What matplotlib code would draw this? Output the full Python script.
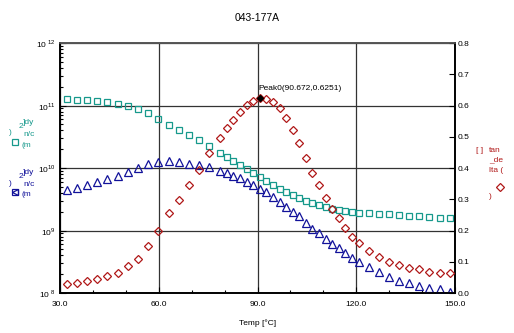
import matplotlib
matplotlib.use("Agg")
import matplotlib.pyplot as plt
import numpy as np
from matplotlib.ticker import FixedLocator, LogLocator, NullFormatter

plt.rcParams["font.family"] = ["Liberation Sans", "DejaVu Sans"]
plt.rcParams["mathtext.fontset"] = "custom"
plt.rcParams["mathtext.rm"] = "Liberation Sans"

# temperature of each measurement point [degC]
temp = [32.0, 35.1, 38.2, 41.3, 44.4, 47.5, 50.6, 53.7, 56.8, 59.9, 63.0, 66.0,
        69.1, 72.2, 75.3,
        78.7, 80.7, 82.7, 84.7, 86.7, 88.7, 90.7, 92.7, 94.7, 96.7, 98.7, 100.7,
        102.7, 104.7, 106.7, 108.7, 110.7, 112.7, 114.7, 116.7, 118.7, 120.7,
        123.8, 126.8, 129.9, 133.0, 136.0, 139.1, 142.2, 145.3, 148.4]

# log10 of storage modulus (squares)
log_g1 = [11.10, 11.09, 11.09, 11.07, 11.06, 11.02, 10.99, 10.94, 10.88, 10.79,
          10.69, 10.61, 10.53, 10.45, 10.35,
          10.245, 10.181, 10.117, 10.053, 9.989, 9.925, 9.861, 9.797, 9.733,
          9.669, 9.616, 9.573, 9.528, 9.47, 9.435, 9.408, 9.371, 9.339, 9.328,
          9.312, 9.296, 9.285,
          9.275, 9.264, 9.259, 9.248, 9.232, 9.227, 9.211, 9.205, 9.195]

# log10 of loss modulus (triangles)
log_g2 = [9.648, 9.685, 9.728, 9.771, 9.824, 9.877, 9.936, 10.0, 10.064, 10.096,
          10.107, 10.091, 10.07, 10.048, 10.011,
          9.957, 9.915, 9.877, 9.835, 9.781, 9.728, 9.664, 9.611, 9.531, 9.461,
          9.381, 9.301, 9.225, 9.12, 9.02, 8.958, 8.859, 8.784, 8.723, 8.645,
          8.555, 8.491,
          8.411, 8.331, 8.261, 8.197, 8.155, 8.112, 8.085, 8.059, 8.021]

# tan delta (diamonds)
tan_delta = [0.029, 0.033, 0.038, 0.045, 0.054, 0.065, 0.086, 0.110, 0.150, 0.200,
             0.256, 0.298, 0.346, 0.394, 0.447,
             0.497, 0.527, 0.554, 0.580, 0.602, 0.614, 0.6251, 0.621, 0.612,
             0.591, 0.561, 0.522, 0.479, 0.431, 0.385, 0.346, 0.303, 0.268,
             0.239, 0.207, 0.180, 0.160,
             0.136, 0.114, 0.098, 0.090, 0.079, 0.076, 0.068, 0.065, 0.063]

peak_t, peak_v = 90.672, 0.6251

teal = "#17998c"
navy = "#12129a"
red = "#b01818"

W, H = 514, 333
fig = plt.figure(figsize=(W / 100, H / 100), dpi=100)
ax = fig.add_axes([60 / W, 1 - 293 / H, 395 / W, 250 / H])
ax2 = ax.twinx()

ax.set_yscale("log")
ax.set_xlim(30, 150)
ax.set_ylim(1e8, 1e12)
ax2.set_ylim(0, 0.8)

ax.plot(temp, 10 ** np.array(log_g1), ls="none", marker="s", ms=5, mew=0.9,
        mfc="none", mec=teal, zorder=3)
ax.plot(temp, 10 ** np.array(log_g2), ls="none", marker="^", ms=5.5, mew=0.9,
        mfc="none", mec=navy, zorder=3)
ax2.plot(temp, tan_delta, ls="none", marker="D", ms=4.3, mew=0.9,
         mfc="none", mec=red, zorder=3)
ax2.plot([peak_t], [peak_v], ls="none", marker="D", ms=3, color="black", zorder=4)
ax2.annotate("Peak0(90.672,0.6251)", (peak_t, peak_v), xytext=(-1, 4),
             textcoords="offset points", fontsize=6, ha="left", va="bottom")

# grid
ax.set_xticks([30, 60, 90, 120, 150])
ax.set_xticklabels(["30.0", "60.0", "90.0", "120.0", "150.0"])
ax.xaxis.set_minor_locator(FixedLocator([40, 50, 70, 80, 100, 110, 130, 140]))
ax.set_yticks([1e8, 1e9, 1e10, 1e11, 1e12])
ax.set_yticklabels(["10 $^{8}$", "10$^{9}$", "10$^{10}$", "10$^{11}$", "10 $^{12}$"])
ax.yaxis.set_minor_locator(LogLocator(base=10, subs=np.arange(2, 10)))
ax.yaxis.set_minor_formatter(NullFormatter())
ax.grid(True, which="major", color="#333333", lw=0.9)

ax.tick_params(which="both", direction="in", labelsize=6, width=0.8)
ax.tick_params(which="major", length=4, pad=3)
ax.tick_params(which="minor", length=2.5)
ax.tick_params(axis="x", pad=6)
ax2.set_yticks(np.arange(0, 0.81, 0.1))
ax2.set_yticklabels(["%.1f" % v for v in np.arange(0, 0.81, 0.1)])
ax2.tick_params(direction="in", labelsize=6, length=4, width=0.8, pad=2)

for a in (ax, ax2):
    for s in a.spines.values():
        s.set_linewidth(1.2)
    a.spines["top"].set_color("#555555")

ax.set_xlabel("Temp [°C]", fontsize=6, labelpad=8)
fig.text(0.5, 1 - 18 / H, "043-177A", ha="center", va="center", fontsize=7.5)

# axis captions (as rendered by the instrument software)
def px(x, y):
    return x / W, 1 - y / H

for col, dy, mk in ((teal, 0, "s"), (navy, 50, "<")):
    fig.text(*px(9, 133 + dy), ")", color=col, fontsize=6, va="center")
    fig.text(*px(19, 127 + dy), "2", color=col, fontsize=6, va="center")
    fig.text(*px(23, 123 + dy), "]dy", color=col, fontsize=6, va="center")
    fig.text(*px(23, 134 + dy), "n/c", color=col, fontsize=6, va="center")
    fig.text(*px(22, 145 + dy), "(m", color=col, fontsize=6, va="center")
    fig.lines.append(plt.Line2D([15 / W], [1 - (142 + dy) / H], transform=fig.transFigure,
                                marker="s", ms=5, mfc="none", mec=col, mew=0.9, ls="none"))
    if mk == "<":
        fig.lines.append(plt.Line2D([15 / W], [1 - (142 + dy) / H], transform=fig.transFigure,
                                    marker="<", ms=4, mfc="none", mec=col, mew=0.9, ls="none"))

fig.text(*px(476, 151), "[ ]", color=red, fontsize=6, va="center")
fig.text(*px(489, 150), "tan", color=red, fontsize=6, va="center")
fig.text(*px(489, 160), "_de", color=red, fontsize=6, va="center")
fig.text(*px(489, 170), "lta (", color=red, fontsize=6, va="center")
fig.text(*px(489, 197), ")", color=red, fontsize=6, va="center")
fig.lines.append(plt.Line2D([500 / W], [1 - 187 / H], transform=fig.transFigure,
                            marker="D", ms=4.3, mfc="none", mec=red, mew=0.9, ls="none"))

fig.savefig("out.png", dpi=100)
